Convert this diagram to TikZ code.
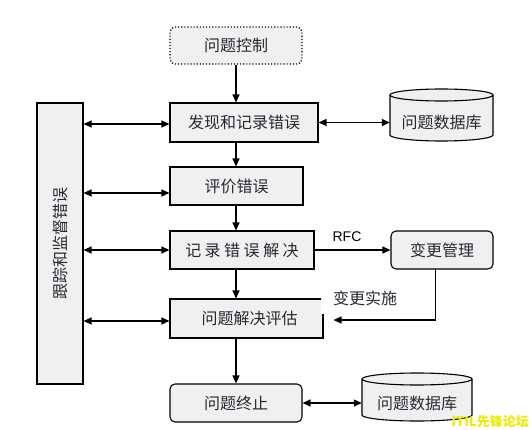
\documentclass[tikz,border=0pt]{standalone}
\usepackage{fontspec}
\setmainfont{Liberation Sans}
\newfontfamily\cjk{Noto Sans CJK SC}
\usetikzlibrary{arrows.meta}
\definecolor{boxfill}{RGB}{240,240,240}
\definecolor{txt}{RGB}{40,40,50}
\definecolor{wm}{RGB}{235,235,0}
\begin{document}
\begin{tikzpicture}[x=1pt,y=-1pt,
  base/.style={draw=black, line width=1.1pt, fill=boxfill, inner sep=0pt, text=txt,
    font=\cjk\fontsize{16}{18}\selectfont},
  procbox/.style={base, rectangle},
  roundbox/.style={base, rectangle, rounded corners=5pt},
  dotbox/.style={roundbox, dotted, line width=1.3pt},
  dbshape/.style={draw=black, line width=1.1pt, fill=boxfill},
  dblabel/.style={text=txt, font=\cjk\fontsize{16}{18}\selectfont, inner sep=0pt},
  arr/.style={line width=1.2pt, -{Triangle[length=8pt,width=7pt]}},
  darr/.style={line width=1.2pt, {Triangle[length=8pt,width=7pt]}-{Triangle[length=8pt,width=7pt]}},
  lbl/.style={inner sep=0pt, text=black},
]
\useasboundingbox (0,0) rectangle (529,430);

% process boxes
\node[dotbox, minimum width=132pt, minimum height=37pt] (ctrl) at (236,45.5) {问题控制};
\node[procbox, minimum width=148pt, minimum height=39pt] (b1) at (244,122.5) {发现和记录错误};
\node[procbox, minimum width=133pt, minimum height=38pt] (b2) at (236.5,186) {评价错误};
\node[procbox, minimum width=144pt, minimum height=38pt] (b3) at (242,250)
  {记\hspace{3.5pt}录\hspace{3.5pt}错\hspace{3.5pt}误\hspace{3.5pt}解\hspace{3.5pt}决};
\node[procbox, minimum width=153pt, minimum height=39pt] (b4) at (246.5,318.5) {\hspace{6pt}问题解决评估};
\node[roundbox, minimum width=132pt, minimum height=38pt] (b5) at (236,403) {问题终止};
\node[roundbox, minimum width=102pt, minimum height=38pt] (cm) at (442,250) {变更管理};
\node[procbox, minimum width=46pt, minimum height=281pt] (left) at (60,243.5) {};
\node[dblabel, rotate=90] (lefttxt) at (60,243.5) {跟踪和监督错误};

% database 1
\path[dbshape] (390,95) -- (390,135) arc[start angle=180,end angle=360,x radius=51.5pt,y radius=6pt]
  -- (493,95) arc[start angle=0,end angle=180,x radius=51.5pt,y radius=6pt] -- cycle;
\draw[line width=1.1pt] (390,95) arc[start angle=180,end angle=360,x radius=51.5pt,y radius=6pt];
\node[inner sep=0pt, minimum width=103pt, minimum height=52pt] (db1) at (441.5,115) {};
\node[dblabel] (db1t) at (441.5,122) {问题数据库};

% database 2
\path[dbshape] (362,379) -- (362,415) arc[start angle=180,end angle=360,x radius=55pt,y radius=6pt]
  -- (472,379) arc[start angle=0,end angle=180,x radius=55pt,y radius=6pt] -- cycle;
\draw[line width=1.1pt] (362,379) arc[start angle=180,end angle=360,x radius=55pt,y radius=6pt];
\node[inner sep=0pt, minimum width=110pt, minimum height=48pt] (db2) at (417,397) {};
\node[dblabel] (db2t) at (417,403) {问题数据库};

% vertical flow
\draw[arr] (ctrl.south) -- (ctrl.south |- b1.north);
\draw[arr] (b1.south -| ctrl.south) -- (b2.north -| ctrl.south);
\draw[arr] (b2.south -| ctrl.south) -- (b3.north -| ctrl.south);
\draw[arr] (b3.south -| ctrl.south) -- (b4.north -| ctrl.south);
\draw[arr] (b4.south -| ctrl.south) -- (b5.north -| ctrl.south);

% left double arrows
\coordinate (y1) at (0,124);
\coordinate (y2) at (0,193);
\coordinate (y3) at (0,250);
\coordinate (y4) at (0,321);
\draw[darr] (left.east |- y1) -- (b1.west |- y1);
\draw[darr] (left.east |- y2) -- (b2.west |- y2);
\draw[darr] (left.east |- y3) -- (b3.west |- y3);
\draw[darr] (left.east |- y4) -- (b4.west |- y4);

% databases
\draw[darr] (b1.east) -- (b1.east -| db1.west);
\draw[darr] (b5.east) -- (b5.east -| db2.west);

% RFC
\draw[arr] (b3.east) -- (cm.west);
\node[lbl, font=\fontsize{14}{16}\selectfont] (rfc) at (347,237) {RFC};

% change implementation
\coordinate (cmdown) at (435.5,269);
\coordinate (turn) at (435.5,320);
\coordinate (chgend) at ([xshift=10pt]b4.east |- turn);
\draw[line width=1.2pt, -{Triangle[length=8pt,width=7pt]}] (cmdown) -- (turn) -- (chgend);
\node[fill=white, inner xsep=12pt, inner ysep=8.5pt, text=txt, font=\cjk\fontsize{16}{18}\selectfont] (chg) at (365,298) {变更实施};

% watermark
\node[anchor=south east, inner sep=0pt, text=wm, font=\cjk\bfseries\fontsize{13}{14}\selectfont] (wmk) at (529,428) {ITIL先锋论坛};
\end{tikzpicture}
\end{document}
